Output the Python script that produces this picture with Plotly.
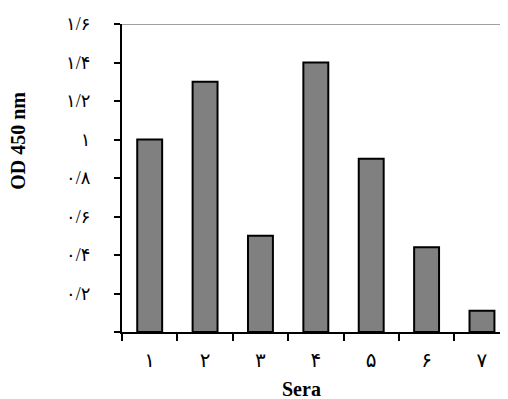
import plotly.graph_objects as go

categories = ["۱", "۲", "۳", "۴", "۵", "۶", "۷"]
values = [1.00, 1.30, 0.50, 1.40, 0.90, 0.44, 0.11]
y_tickvals = [0, 0.2, 0.4, 0.6, 0.8, 1.0, 1.2, 1.4, 1.6]
y_ticktext = ["", "۰/۲", "۰/۴", "۰/۶", "۰/۸", "۱", "۱/۲", "۱/۴", "۱/۶"]
y_max = 1.6
x_title = "Sera"
y_title = "OD 450 nm"

serif = "Liberation Serif, Times New Roman, DejaVu Serif, serif"
digits_font = "Liberation Serif, DejaVu Sans, serif"

fig = go.Figure()
fig.add_trace(go.Bar(
    x=categories, y=values, width=0.45,
    marker=dict(color="#808080", line=dict(color="black", width=2)),
))

fig.add_shape(type="line", xref="paper", yref="y", x0=0, x1=1, y0=y_max, y1=y_max,
              line=dict(color="#a0a0a0", width=2), layer="below")

# the page body adds an 8px offset, so the figure is sized/margined to compensate
fig.update_layout(
    width=500, height=391,
    margin=dict(l=114, r=0, t=16, b=67),
    paper_bgcolor="white", plot_bgcolor="white",
    showlegend=False,
    xaxis=dict(
        type="category", range=[-0.5, 6.47],
        showline=True, linecolor="black", linewidth=2,
        ticks="outside", ticklen=7, tickwidth=2, tickcolor="black",
        tickson="boundaries", showgrid=False, zeroline=False,
        tickfont=dict(family=digits_font, size=20, color="black"),
        ticklabelstandoff=9,
    ),
    yaxis=dict(
        range=[0, y_max], tickvals=y_tickvals, ticktext=y_ticktext,
        showline=True, linecolor="black", linewidth=2,
        ticks="outside", ticklen=6, tickwidth=2, tickcolor="black",
        showgrid=False, zeroline=False,
        tickfont=dict(family=digits_font, size=18, color="black"),
        ticklabelstandoff=20,
    ),
    annotations=[
        dict(text="<b>%s</b>" % x_title, xref="paper", yref="paper",
             x=0.466, y=-0.185, showarrow=False,
             font=dict(family=serif, size=20, color="black"),
             xanchor="center", yanchor="middle"),
        dict(text="<b>%s</b>" % y_title, xref="paper", yref="paper",
             x=-0.27, y=0.62, showarrow=False, textangle=-90,
             font=dict(family=serif, size=20, color="black"),
             xanchor="center", yanchor="middle"),
    ],
)

fig.write_html("out.html")
